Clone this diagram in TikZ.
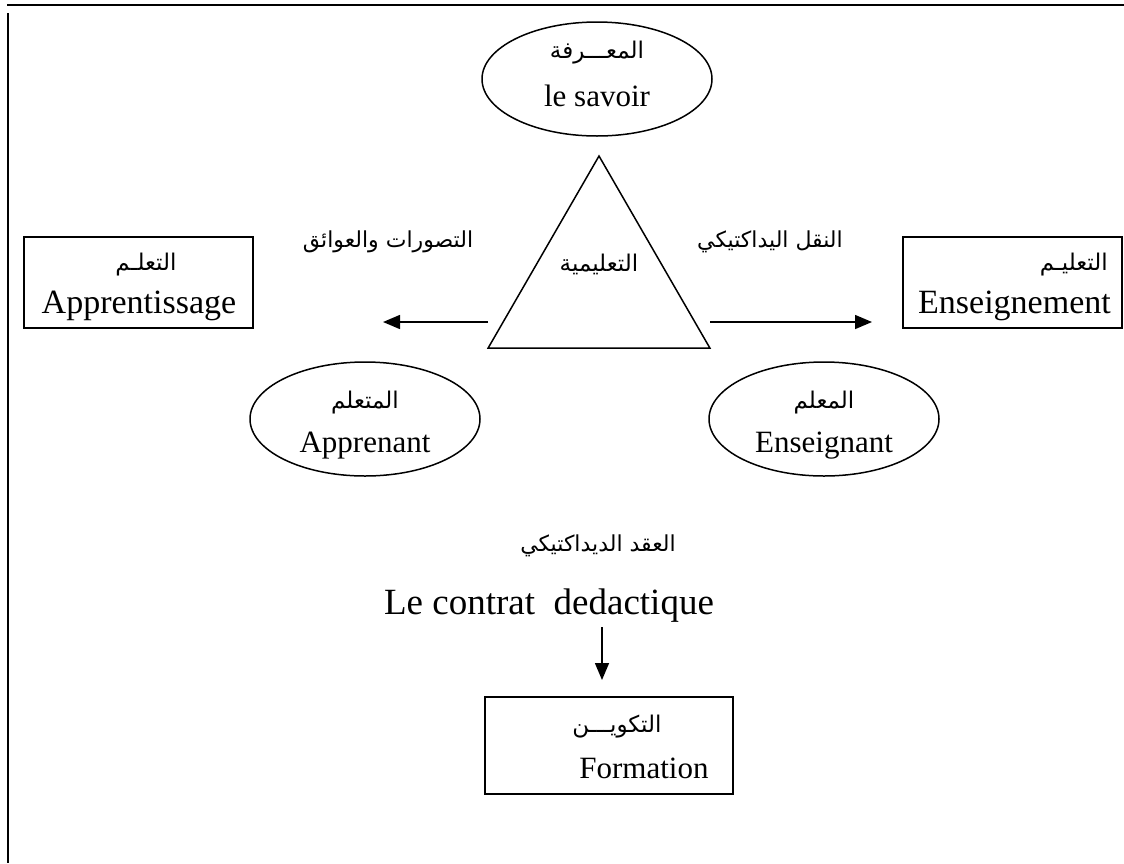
\documentclass[tikz,border=0pt]{standalone}
\usepackage{fontspec}
\setmainfont{Liberation Serif}
\newfontfamily\arfont[Script=Arabic]{DejaVu Sans}
\TeXXeTstate=1
\usetikzlibrary{shapes.geometric,arrows.meta}
\newcommand\artext[1]{\beginR #1\endR}
\tikzset{
  ell/.style={draw, ellipse, line width=1.5pt, minimum width=230pt, minimum height=114pt, inner sep=0pt},
  boxn/.style={draw, rectangle, line width=1.5pt, inner sep=0pt},
  lat/.style={font=\fontsize{31}{36}\selectfont, inner sep=0pt},
  boxlat/.style={font=\fontsize{34}{38}\selectfont, inner sep=0pt},
  biglat/.style={font=\fontsize{37}{42}\selectfont, inner sep=0pt},
  arl/.style={font=\arfont\fontsize{23}{26}\selectfont, inner sep=0pt},
  bigar/.style={font=\arfont\fontsize{22}{26}\selectfont, inner sep=0pt},
  conn/.style={line width=1.5pt, -{Triangle[length=17pt,width=14pt]}},
  frame/.style={line width=2.2pt}
}
\begin{document}
\begin{tikzpicture}[x=1pt,y=-1pt]
\useasboundingbox (0,0) rectangle (1124,863);
% frame lines
\coordinate (tl) at (7,5);
\coordinate (tr) at (1124,5);
\coordinate (lt) at (8,13);
\coordinate (lb) at (8,863);
\draw[frame] (tl) -- (tr);
\draw[frame] (lt) -- (lb);

% top ellipse
\node[ell] (savoir) at (597,79) {};
\node[arl] (savoirA) at (597,53) {\artext{المعـــرفة}};
\node[lat, anchor=base] (savoirL) at (597,106) {le savoir};

% triangle
\node[draw, regular polygon, regular polygon sides=3, minimum size=256pt, inner sep=0pt, line width=1.5pt] (tri) at (599,284) {};
\node[arl] (triA) at (599,264) {\artext{التعليمية}};

% side labels
\node[bigar] (repr) at (388,242) {\artext{التصورات والعوائق}};
\node[bigar] (transp) at (770,242) {\artext{النقل اليداكتيكي}};

% left box
\node[boxn, minimum width=229pt, minimum height=91pt] (appr) at (138.5,282.5) {};
\node[arl] (apprA) at (146,265) {\artext{التعلـم}};
\node[boxlat, anchor=base] (apprL) at (139,313) {Apprentissage};

% right box
\node[boxn, minimum width=219pt, minimum height=91pt] (ens) at (1012.5,282.5) {};
\node[arl, anchor=east] (ensA) at (1108,265) {\artext{التعليـم}};
\node[boxlat, anchor=base east] (ensL) at (1111,313) {Enseignement};

% arrows
\coordinate (la) at (488,322);
\coordinate (lz) at (383,322);
\coordinate (ra) at (710,322);
\coordinate (rz) at (872,322);
\draw[conn] (la) -- (lz);
\draw[conn] (ra) -- (rz);

% bottom ellipses
\node[ell] (apprenant) at (365,419) {};
\node[arl] (apprenantA) at (365,403) {\artext{المتعلم}};
\node[lat, anchor=base] (apprenantL) at (365,452) {Apprenant};
\node[ell] (enseignant) at (824,419) {};
\node[arl] (enseignantA) at (824,403) {\artext{المعلم}};
\node[lat, anchor=base] (enseignantL) at (824,452) {Enseignant};

% contract
\node[bigar] (contratA) at (598,546) {\artext{العقد الديداكتيكي}};
\node[biglat, anchor=base] (contratL) at (549,614) {Le contrat\ \ dedactique};

\coordinate (da) at (602,627);
\draw[conn] (da) -- ++(0,53) coordinate (dz);

% formation box
\node[boxn, minimum width=248pt, minimum height=97pt] (form) at (609,745.5) {};
\node[arl] (formA) at (617,727) {\artext{التكويـــن}};
\node[lat, anchor=base] (formL) at (644,778) {Formation};
\end{tikzpicture}
\end{document}
